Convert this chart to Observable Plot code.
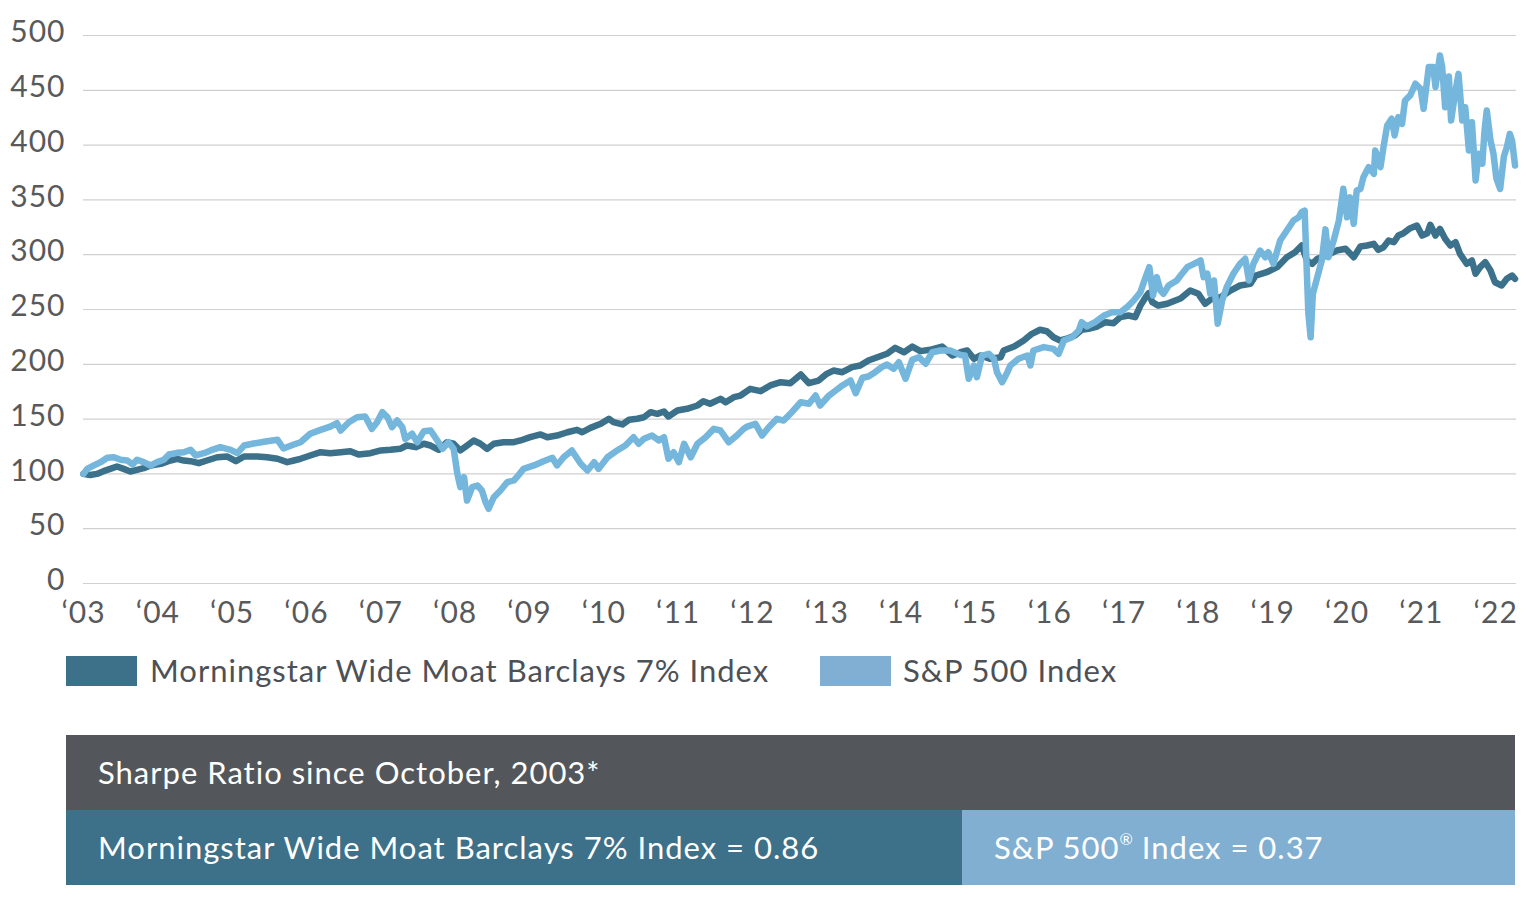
<!DOCTYPE html>
<html>
<head>
<meta charset="utf-8">
<script src="https://cdn.jsdelivr.net/npm/d3@7"></script>
<script src="https://cdn.jsdelivr.net/npm/@observablehq/plot@0.6"></script>
<style>
  html, body { margin: 0; padding: 0; background: #fff; }
  body { width: 1534px; height: 920px; position: relative; font-family: Lato, "Noto Sans", sans-serif; overflow: hidden; }
  #chart { position: absolute; left: 0; top: 0; }
  .sw { position: absolute; width: 71px; height: 30px; }
  .lt { position: absolute; font-size: 31px; letter-spacing: 1px; line-height: 36px; color: #4d5055; white-space: nowrap; }
  .cell { position: absolute; color: #fff; font-size: 31px; letter-spacing: 1px; line-height: 75px; height: 75px; box-sizing: border-box; padding-left: 32px; white-space: nowrap; }
  sup { font-size: 16px; line-height: 0; vertical-align: 14px; letter-spacing: 0; }
</style>
</head>
<body>
<div id="chart"></div>
<div class="sw" style="left:66px;top:656px;background:#3d7089"></div>
<div class="lt" id="leg1" style="left:150px;top:652px"></div>
<div class="sw" style="left:820px;top:656px;background:#80afd3"></div>
<div class="lt" id="leg2" style="left:903px;top:652px"></div>
<div class="cell" id="hdr" style="left:66px;top:735px;width:1449px;background:#53575b"></div>
<div class="cell" id="c1" style="left:66px;top:810px;width:896px;background:#3d7089"></div>
<div class="cell" id="c2" style="left:962px;top:810px;width:553px;background:#80afd2"></div>
<script>
const seriesNames = ["Morningstar Wide Moat Barclays 7% Index", "S&P 500 Index"];
const sharpeTitle = "Sharpe Ratio since October, 2003*";
const sharpeValues = [0.86, 0.37];
const xTicks = [2003,2004,2005,2006,2007,2008,2009,2010,2011,2012,2013,2014,2015,2016,2017,2018,2019,2020,2021,2022];
const yTicks = [0,50,100,150,200,250,300,350,400,450,500];

// Morningstar Wide Moat Barclays 7% Index: [decimal year, value]
const moat = [
[2003.00,100],[2003.09,99],[2003.18,100],[2003.27,102.5],[2003.36,104.6],[2003.45,106.8],[2003.54,104.6],[2003.63,102.2],[2003.72,103.7],[2003.81,105.2],[2003.90,107.7],[2004.04,109.2],[2004.17,112.2],[2004.26,113.8],[2004.35,112.2],[2004.44,111.6],[2004.55,109.8],[2004.66,112.2],[2004.80,115.2],[2004.93,115.9],[2005.05,111.6],[2005.16,115.9],[2005.34,115.9],[2005.47,115.2],[2005.61,113.8],[2005.74,110.7],[2005.83,112.2],[2005.92,113.8],[2006.05,116.8],[2006.19,119.8],[2006.32,118.9],[2006.46,119.8],[2006.59,120.7],[2006.70,117.7],[2006.86,118.9],[2007.00,121.4],[2007.13,122],[2007.26,122.9],[2007.35,125.9],[2007.47,124.4],[2007.58,127.5],[2007.67,125.9],[2007.78,122],[2007.89,128.9],[2007.98,127.5],[2008.07,121.4],[2008.16,125.9],[2008.25,130.5],[2008.34,127.5],[2008.43,122.9],[2008.52,127.5],[2008.65,128.9],[2008.79,128.9],[2008.88,130.5],[2009.01,133.5],[2009.15,136],[2009.24,133.5],[2009.37,135],[2009.51,138],[2009.64,140.2],[2009.71,138],[2009.82,142],[2009.96,145.7],[2010.07,150.3],[2010.13,147.2],[2010.25,145.1],[2010.34,149.4],[2010.45,150.3],[2010.54,151.7],[2010.63,156.3],[2010.72,154.8],[2010.81,156.9],[2010.87,152.4],[2010.99,157.8],[2011.12,159.4],[2011.26,162.4],[2011.34,166.3],[2011.43,164],[2011.57,168.5],[2011.64,165.4],[2011.75,170],[2011.84,171.5],[2011.97,177.6],[2012.11,175.5],[2012.24,180.7],[2012.38,183.7],[2012.51,182.8],[2012.65,190.7],[2012.76,182.8],[2012.89,185.2],[2013.00,191.3],[2013.09,194.3],[2013.21,192.8],[2013.34,197.4],[2013.45,198.9],[2013.56,203.5],[2013.68,206.5],[2013.81,209.6],[2013.92,215],[2014.04,211],[2014.15,216.2],[2014.26,212],[2014.39,213.2],[2014.55,216.2],[2014.69,208],[2014.80,211],[2014.89,212.6],[2014.98,205],[2015.07,208],[2015.20,205],[2015.34,206.5],[2015.38,212.6],[2015.52,216.2],[2015.65,221.7],[2015.76,227.8],[2015.87,231.5],[2015.96,230.2],[2016.05,224.7],[2016.14,221.7],[2016.23,223.3],[2016.34,226.3],[2016.43,231.5],[2016.52,232.4],[2016.64,234.5],[2016.75,238.4],[2016.86,237.5],[2016.95,243],[2017.06,244.5],[2017.15,243],[2017.22,253.6],[2017.29,261.2],[2017.33,265],[2017.38,256.7],[2017.46,253.6],[2017.58,255.2],[2017.69,258.2],[2017.76,260],[2017.89,267.3],[2018.00,264.3],[2018.09,255.2],[2018.18,259.8],[2018.30,261.2],[2018.43,267.3],[2018.56,271.9],[2018.70,273.4],[2018.77,281],[2018.92,284],[2019.06,288.6],[2019.19,297.7],[2019.30,302.3],[2019.39,308.4],[2019.46,294.7],[2019.53,291.7],[2019.60,296.3],[2019.73,299.3],[2019.86,303.8],[2019.98,305.4],[2020.09,297.7],[2020.18,307.5],[2020.27,308.4],[2020.36,309.9],[2020.42,304.4],[2020.49,306.8],[2020.56,312.9],[2020.63,311.4],[2020.69,317.5],[2020.76,319.6],[2020.85,324.2],[2020.94,326.6],[2021.01,317.5],[2021.08,319.6],[2021.12,327.3],[2021.19,317.5],[2021.25,323.6],[2021.32,314.5],[2021.39,308.4],[2021.46,311.4],[2021.52,300.8],[2021.61,291.7],[2021.68,294.7],[2021.73,282.6],[2021.79,288.6],[2021.86,293.2],[2021.93,285.6],[2021.99,274.9],[2022.08,271.9],[2022.15,278],[2022.22,281],[2022.26,278]
];

// S&P 500 Index: [decimal year, value]
const spx = [
[2003.00,100],[2003.05,104.6],[2003.14,107.7],[2003.23,110.7],[2003.32,114.7],[2003.41,115.2],[2003.50,112.9],[2003.59,112.2],[2003.66,108.6],[2003.72,112.9],[2003.81,110.7],[2003.90,107.7],[2003.99,110.7],[2004.08,112.9],[2004.15,117.7],[2004.26,119.2],[2004.35,119.8],[2004.44,122],[2004.51,116.8],[2004.62,118.9],[2004.71,121.4],[2004.84,124.4],[2004.98,122],[2005.07,118.9],[2005.16,125.9],[2005.29,127.7],[2005.47,129.8],[2005.61,131.1],[2005.69,123.2],[2005.83,126.8],[2005.92,128.9],[2006.05,136.6],[2006.19,140.2],[2006.32,143.2],[2006.41,146.3],[2006.46,139.6],[2006.57,147.2],[2006.68,151.7],[2006.79,152.4],[2006.88,141.1],[2006.95,147.2],[2007.02,156.3],[2007.09,151.7],[2007.15,142.6],[2007.22,148.7],[2007.29,142.6],[2007.33,132],[2007.42,136.6],[2007.49,128.9],[2007.58,139],[2007.67,139.6],[2007.76,130.5],[2007.83,122.9],[2007.91,128.9],[2007.98,122.9],[2008.03,100.1],[2008.07,87.9],[2008.12,97],[2008.16,75.7],[2008.23,87.9],[2008.30,89.4],[2008.36,84.9],[2008.41,74.2],[2008.45,68.2],[2008.52,78.7],[2008.61,84.9],[2008.70,92.4],[2008.79,94],[2008.83,97],[2008.92,104.6],[2009.06,107.7],[2009.19,111.6],[2009.31,114.7],[2009.37,107.7],[2009.46,115.2],[2009.57,121.4],[2009.69,109.2],[2009.78,103.1],[2009.87,110.7],[2009.93,104.6],[2010.05,115.2],[2010.18,121.4],[2010.29,125.9],[2010.40,133.5],[2010.47,127.5],[2010.54,132],[2010.65,135],[2010.74,130.5],[2010.81,133.5],[2010.87,113.8],[2010.94,119.8],[2011.01,110.7],[2011.08,127.5],[2011.17,115.2],[2011.26,127.5],[2011.37,133.5],[2011.48,141.1],[2011.57,139.6],[2011.68,128.9],[2011.79,135],[2011.88,141],[2011.93,143.2],[2012.04,145.7],[2012.13,135],[2012.22,142.6],[2012.33,150.3],[2012.42,148.7],[2012.53,156.3],[2012.65,165.4],[2012.76,164],[2012.85,171.5],[2012.91,162.4],[2013.03,171.5],[2013.12,176.1],[2013.21,180.7],[2013.32,185.2],[2013.39,173.6],[2013.48,187.7],[2013.56,188.9],[2013.65,192.8],[2013.74,197.4],[2013.81,199.8],[2013.90,195.9],[2013.97,201.9],[2014.06,186.8],[2014.15,204.1],[2014.24,206.5],[2014.33,200.5],[2014.42,211],[2014.53,212.6],[2014.66,212.6],[2014.80,208.5],[2014.86,208],[2014.91,186.8],[2014.98,198.9],[2015.02,188.3],[2015.09,208],[2015.18,209.6],[2015.25,205],[2015.29,192.8],[2015.36,183.7],[2015.43,192.8],[2015.47,198.9],[2015.58,205],[2015.70,208],[2015.74,198.9],[2015.78,212.6],[2015.92,215.7],[2016.05,214.1],[2016.12,209.6],[2016.19,221.7],[2016.30,224.7],[2016.39,230.8],[2016.43,238.4],[2016.50,234.5],[2016.61,238.4],[2016.73,244.5],[2016.84,247.5],[2016.95,247.5],[2017.04,252.1],[2017.13,258.2],[2017.22,265.8],[2017.29,279.5],[2017.34,288.6],[2017.39,262.8],[2017.44,279.5],[2017.49,267.3],[2017.53,264.3],[2017.60,271.9],[2017.71,276.5],[2017.76,281],[2017.85,288.6],[2017.94,291.7],[2018.03,294.7],[2018.07,279.5],[2018.12,282.6],[2018.16,264.3],[2018.21,276.5],[2018.26,237],[2018.32,258.2],[2018.38,270.3],[2018.47,282.6],[2018.56,291.7],[2018.63,296.3],[2018.68,276.5],[2018.74,291.7],[2018.83,303.8],[2018.90,297.7],[2018.94,302.3],[2019.01,291.7],[2019.10,312.9],[2019.19,322.1],[2019.28,331.2],[2019.35,334.2],[2019.39,338.8],[2019.43,340.3],[2019.45,300.8],[2019.48,246.1],[2019.51,224.7],[2019.54,264.3],[2019.60,279.5],[2019.66,294.7],[2019.71,323.1],[2019.75,297.7],[2019.82,312.9],[2019.89,331.2],[2019.95,360.1],[2020.00,334.2],[2020.04,352.3],[2020.09,328.2],[2020.13,358.6],[2020.18,360],[2020.22,370.7],[2020.29,379.9],[2020.36,373.8],[2020.38,395.1],[2020.45,379.9],[2020.49,398.1],[2020.54,417.9],[2020.60,424],[2020.64,408.8],[2020.69,425.5],[2020.74,419.4],[2020.78,440.7],[2020.85,445.3],[2020.92,456],[2020.99,451.4],[2021.03,433.1],[2021.10,471.3],[2021.16,471.3],[2021.19,453],[2021.25,481.8],[2021.28,471.3],[2021.32,434.6],[2021.37,462.6],[2021.40,422.4],[2021.46,449.8],[2021.50,465],[2021.55,422.4],[2021.59,434.6],[2021.64,395.1],[2021.68,420.9],[2021.73,367.7],[2021.77,392.1],[2021.82,383],[2021.85,413.3],[2021.88,431.6],[2021.93,404.2],[2021.97,392.1],[2022.01,369.3],[2022.06,360.1],[2022.11,389.7],[2022.15,398.1],[2022.19,410.3],[2022.22,404.2],[2022.26,381.4]
];

const colors = ["#3b718b", "#74b6dc"];

const chart = Plot.plot({
  width: 1534,
  height: 630,
  marginLeft: 83,
  marginRight: 18,
  marginTop: 35,
  marginBottom: 47,
  style: { fontFamily: "Lato", fontSize: "30px", letterSpacing: "1px", color: "#58595b", background: "transparent", overflow: "visible" },
  x: { type: "linear", domain: [2003, 2022.28], ticks: xTicks, tickFormat: d => "\u2018" + String(d).slice(2), tickSize: 0, tickPadding: 18, label: null },
  y: { domain: [0, 500], ticks: yTicks, tickSize: 0, tickPadding: 18, label: null },
  marks: [
    Plot.ruleY(yTicks, { stroke: "#d0d0d0", strokeWidth: 1.2 }),
    Plot.line(moat, { x: d => d[0], y: d => d[1], stroke: colors[0], strokeWidth: 6.5, strokeLinejoin: "round", strokeLinecap: "round" }),
    Plot.line(spx, { x: d => d[0], y: d => d[1], stroke: colors[1], strokeWidth: 6.5, strokeLinejoin: "round", strokeLinecap: "round" })
  ]
});
document.getElementById("chart").appendChild(chart);
// nudge y tick labels slightly above their gridlines, as in the reference
d3.select(chart).selectAll('g[aria-label^="y-axis"] text').attr("dy", "-0.1em");

document.getElementById("leg1").textContent = seriesNames[0];
document.getElementById("leg2").textContent = seriesNames[1];
document.getElementById("hdr").textContent = sharpeTitle;
document.getElementById("c1").textContent = seriesNames[0] + " = " + sharpeValues[0].toFixed(2);
document.getElementById("c2").innerHTML = "S&amp;P 500<sup>\u00ae</sup> Index = " + sharpeValues[1].toFixed(2);
</script>
</body>
</html>
